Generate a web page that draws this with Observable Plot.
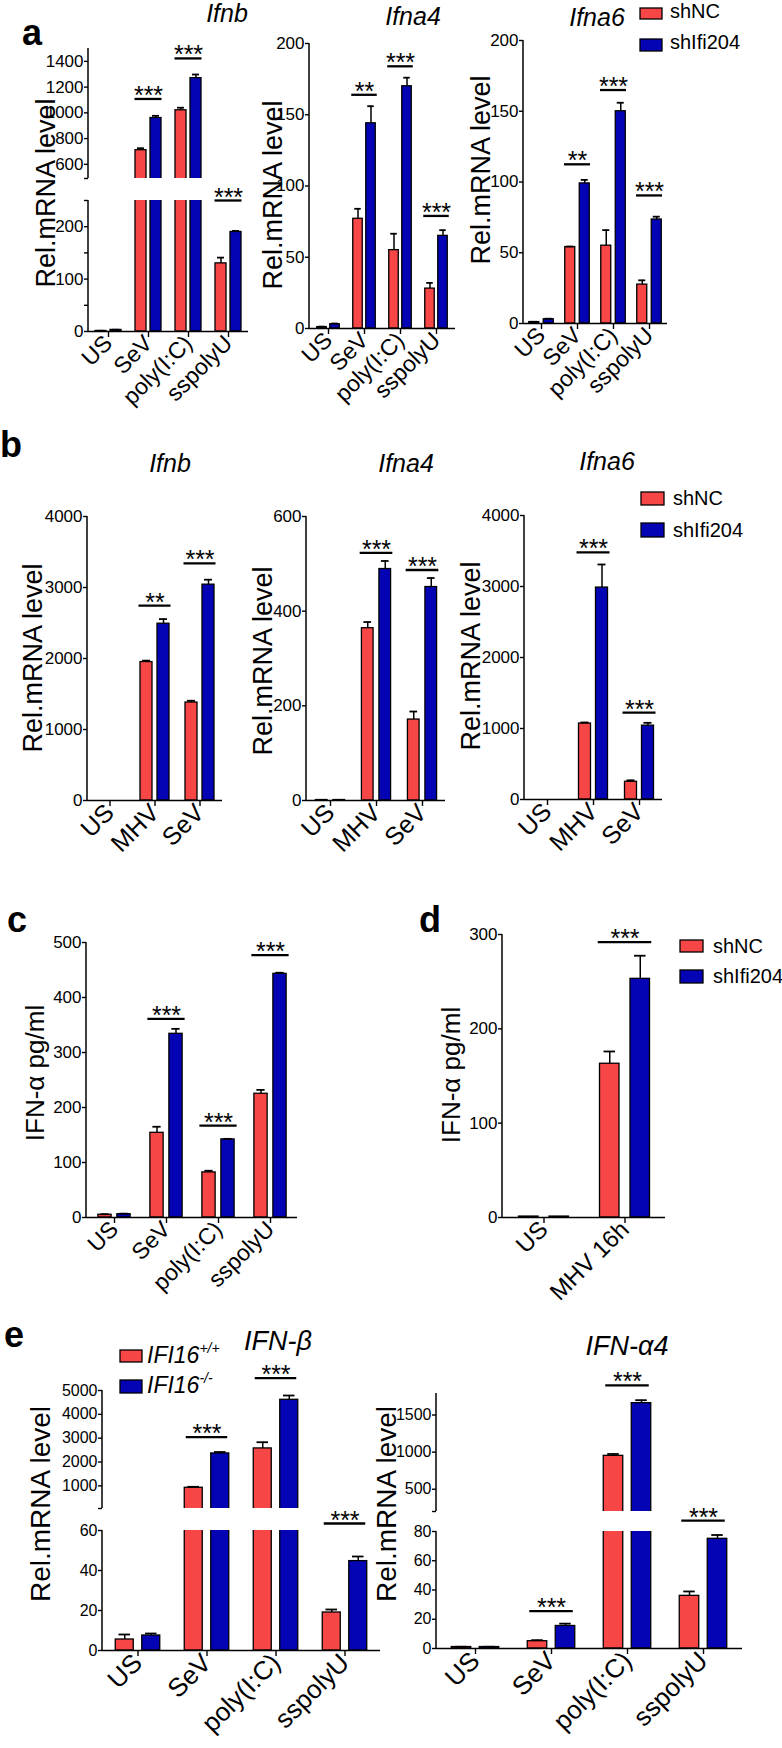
<!DOCTYPE html>
<html><head><meta charset="utf-8">
<script src="https://cdn.jsdelivr.net/npm/d3@7"></script>
<script src="https://cdn.jsdelivr.net/npm/@observablehq/plot@0.6"></script>
<style>
body{margin:0;background:#fff;}
#fig{position:relative;width:782px;height:1748px;overflow:hidden;font-family:"Liberation Sans",Arial,Helvetica,sans-serif;color:#000;background:#fff;}
</style></head><body><div id="fig"></div>
<script>
const RED = "#f64646", BLUE = "#0404b4";
const FONT = '"Liberation Sans", Arial, Helvetica, sans-serif';

// ---------- DATA ----------
const catsA = ["US", "SeV", "poly(I:C)", "sspolyU"];
const catsB = ["US", "MHV", "SeV"];
const catsD = ["US", "MHV 16h"];

// panel a
const aIfnbNC = [1, 710, 1020, 130],   aIfnbNCsem = [0.4, 15, 20, 11];
const aIfnbSh = [3, 960, 1270, 190],   aIfnbShsem = [0.4, 17, 28, 2];
const aIfnbSig = ["", "***", "***", "***"], aIfnbSigAt = [null, 1108, 1423, 250], aIfnbSigSeg = ["", "u", "u", "l"];

const aIfna4NC = [1, 77, 55, 28],     aIfna4NCsem = [0.3, 7, 11.5, 4];
const aIfna4Sh = [3, 144, 170, 65],   aIfna4Shsem = [0.5, 12, 6, 4];
const aIfna4Sig = ["", "**", "***", "***"], aIfna4SigAt = [null, 164, 184, 79];

const aIfna6NC = [1, 54, 55, 27.5],   aIfna6NCsem = [0.2, 0.4, 11, 3];
const aIfna6Sh = [3, 99, 150, 73.5],  aIfna6Shsem = [0.4, 2.5, 6, 2];
const aIfna6Sig = ["", "**", "***", "***"], aIfna6SigAt = [null, 112.5, 165, 90.5];

// panel b
const bIfnbNC = [0, 1950, 1380],  bIfnbNCsem = [0, 20, 25];
const bIfnbSh = [0, 2490, 3040],  bIfnbShsem = [0, 65, 70];
const bIfnbSig = ["", "**", "***"], bIfnbSigAt = [null, 2746, 3340];

const bIfna4NC = [1, 364, 171],   bIfna4NCsem = [0, 13, 17];
const bIfna4Sh = [1, 489, 451],   bIfna4Shsem = [0, 17, 19];
const bIfna4Sig = ["", "***", "***"], bIfna4SigAt = [null, 523, 487];

const bIfna6NC = [0, 1070, 250],  bIfna6NCsem = [0, 15, 20];
const bIfna6Sh = [0, 2985, 1040], bIfna6Shsem = [0, 325, 40];
const bIfna6Sig = ["", "***", "***"], bIfna6SigAt = [null, 3480, 1225];

// panel c
const cNC = [5, 154, 82, 225],  cNCsem = [1, 11, 3, 7];
const cSh = [6, 334, 142, 443], cShsem = [1, 9, 1, 2];
const cSig = ["", "***", "***", "***"], cSigAt = [null, 361, 167, 477];

// panel d
const dNC = [1, 163], dNCsem = [0, 13];
const dSh = [1, 253], dShsem = [0, 24.5];
const dSig = ["", "***"], dSigAt = [null, 292];

// panel e
const eBWt = [5.5, 920, 2570, 19],   eBWtsem = [2.5, 40, 260, 1.5];
const eBKo = [7.5, 2360, 4610, 44.7], eBKosem = [1, 60, 180, 2.3];
const eBSig = ["", "***", "***", "***"], eBSigAt = [null, 3040, 5515, 63.5], eBSigSeg = ["", "u", "u", "l"];

const eAWt = [1, 5, 950, 36],     eAWtsem = [0.2, 0.7, 25, 3];
const eAKo = [1, 15.4, 1660, 75], eAKosem = [0.2, 1.6, 40, 2.6];
const eASig = ["", "***", "***", "***"], eASigAt = [null, 25.5, 1900, 87.5], eASigSeg = ["", "l", "u", "l"];

// tick values
const t0_200 = [0, 50, 100, 150, 200];
const t0_4000 = [0, 1000, 2000, 3000, 4000];
const t0_600 = [0, 200, 400, 600];
const t0_500 = [0, 100, 200, 300, 400, 500];
const t0_300 = [0, 100, 200, 300];

// ---------- DRAWING ----------
const svgNS = "http://www.w3.org/2000/svg";
const fig = document.getElementById("fig");

function yLine(index, scales, values, dims) {
  const l = document.createElementNS(svgNS, "line");
  l.setAttribute("x1", dims.marginLeft); l.setAttribute("x2", dims.marginLeft);
  l.setAttribute("y1", dims.marginTop); l.setAttribute("y2", dims.height - dims.marginBottom);
  l.setAttribute("stroke", "black"); l.setAttribute("stroke-width", "1.5");
  return l;
}

function drawSeg(p, seg, bottom) {
  const ML = 70, MR = 24, MT = 44, MB = 140;
  const n = p.cats.length, step = p.w / n;
  const bi = (step - p.bw) / 2, ci = (step - p.capW) / 2, si = (step - p.sigLen) / 2;
  const clip = p.segs.length > 1;
  const lo = seg.domain[0], span = seg.domain[1] - seg.domain[0];
  const rows = [[], []];
  p.cats.forEach((c, i) => {
    rows[0].push({cat: c, v: p.s1[i], e: p.e1[i]});
    rows[1].push({cat: c, v: p.s2[i], e: p.e2[i]});
  });
  const sig = p.cats.map((c, i) => ({cat: c, y: p.sigAt[i], t: p.sig[i], seg: p.sigSeg ? p.sigSeg[i] : seg.name}))
    .filter(d => d.t && d.seg === seg.name);
  const marks = [];
  rows.forEach((all, g) => {
    const data = bottom ? all : all.filter(d => d.v > lo + span * 0.02);
    const dx = g ? p.off : -p.off;
    marks.push(Plot.barY(data, {x: "cat", y1: 0, y2: "v", dx, insetLeft: bi, insetRight: bi,
      fill: g ? BLUE : RED, stroke: "black", strokeWidth: 1.3, clip}));
    const eb = data.filter(d => d.e > 0);
    marks.push(Plot.ruleX(eb, {x: "cat", y1: "v", y2: d => d.v + d.e, dx, stroke: "black", strokeWidth: 1.5, clip}));
    marks.push(Plot.tickY(eb, {x: "cat", y: d => d.v + d.e, dx, insetLeft: ci, insetRight: ci, stroke: "black", strokeWidth: 1.8, clip}));
  });
  marks.push(yLine);
  marks.push(Plot.axisY({ticks: seg.ticks, tickFormat: d => (seg.labels || seg.ticks).includes(d) ? String(d) : "",
    tickSize: 4, tickPadding: 1, fontSize: p.yFont, strokeWidth: 1.4, label: null}));
  if (bottom) {
    marks.push(Plot.ruleY([seg.domain[0]], {stroke: "black", strokeWidth: 1.5}));
    marks.push(Plot.axisX({tickSize: 6, tickRotate: -45, tickPadding: 2, fontSize: p.xFont, strokeWidth: 1.4, label: null}));
  }
  marks.push(Plot.tickY(sig, {x: "cat", y: "y", insetLeft: si, insetRight: si, stroke: "black", strokeWidth: 2.3}));
  marks.push(Plot.text(sig, {x: "cat", y: "y", text: "t", dy: 5, lineAnchor: "bottom", fontSize: 25}));
  const xOpt = {type: "band", domain: p.cats, padding: 0};
  if (!bottom) xOpt.axis = null;
  const svg = Plot.plot({
    width: ML + p.w + MR, height: MT + seg.h + MB,
    marginLeft: ML, marginRight: MR, marginTop: MT, marginBottom: MB,
    x: xOpt, y: {domain: seg.domain},
    style: {background: "transparent", overflow: "visible", fontFamily: FONT, color: "black"},
    marks
  });
  svg.style.position = "absolute";
  svg.style.left = (p.left - ML) + "px";
  svg.style.top = (seg.top - MT) + "px";
  svg.style.maxWidth = "none";
  fig.appendChild(svg);
}

function panel(p) {
  p.segs.forEach((s, i) => drawSeg(p, s, i === p.segs.length - 1));
}

// panel a
panel({cats: catsA, s1: aIfnbNC, e1: aIfnbNCsem, s2: aIfnbSh, e2: aIfnbShsem,
  sig: aIfnbSig, sigAt: aIfnbSigAt, sigSeg: aIfnbSigSeg,
  left: 88, w: 160, bw: 11, off: 7.5, capW: 7, sigLen: 27, xFont: 23, yFont: 17,
  segs: [
    {name: "u", domain: [490, 1500], top: 48, h: 130, ticks: [490, 600, 800, 1000, 1200, 1400], labels: [600, 800, 1000, 1200, 1400]},
    {name: "l", domain: [0, 250], top: 200, h: 131, ticks: [0, 50, 100, 150, 200, 250], labels: [0, 100, 200]}
  ]});
panel({cats: catsA, s1: aIfna4NC, e1: aIfna4NCsem, s2: aIfna4Sh, e2: aIfna4Shsem,
  sig: aIfna4Sig, sigAt: aIfna4SigAt,
  left: 309, w: 146, bw: 10, off: 6.5, capW: 7, sigLen: 26, xFont: 23, yFont: 17,
  segs: [{name: "m", domain: [0, 200], top: 43, h: 285, ticks: t0_200}]});
panel({cats: catsA, s1: aIfna6NC, e1: aIfna6NCsem, s2: aIfna6Sh, e2: aIfna6Shsem,
  sig: aIfna6Sig, sigAt: aIfna6SigAt,
  left: 523, w: 144, bw: 10, off: 7.25, capW: 7, sigLen: 26, xFont: 23, yFont: 17,
  segs: [{name: "m", domain: [0, 200], top: 40, h: 283, ticks: t0_200}]});

// panel b
panel({cats: catsB, s1: bIfnbNC, e1: bIfnbNCsem, s2: bIfnbSh, e2: bIfnbShsem,
  sig: bIfnbSig, sigAt: bIfnbSigAt,
  left: 87, w: 135, bw: 12, off: 8.5, capW: 8, sigLen: 32, xFont: 25, yFont: 17,
  segs: [{name: "m", domain: [0, 4000], top: 516, h: 284, ticks: t0_4000}]});
panel({cats: catsB, s1: bIfna4NC, e1: bIfna4NCsem, s2: bIfna4Sh, e2: bIfna4Shsem,
  sig: bIfna4Sig, sigAt: bIfna4SigAt,
  left: 306, w: 139, bw: 12, off: 8.75, capW: 8, sigLen: 33, xFont: 25, yFont: 17,
  segs: [{name: "m", domain: [0, 600], top: 516, h: 284, ticks: t0_600}]});
panel({cats: catsB, s1: bIfna6NC, e1: bIfna6NCsem, s2: bIfna6Sh, e2: bIfna6Shsem,
  sig: bIfna6Sig, sigAt: bIfna6SigAt,
  left: 524, w: 138, bw: 12, off: 8.5, capW: 8, sigLen: 33, xFont: 25, yFont: 17,
  segs: [{name: "m", domain: [0, 4000], top: 515, h: 284, ticks: t0_4000}]});

// panel c
panel({cats: catsA, s1: cNC, e1: cNCsem, s2: cSh, e2: cShsem, sig: cSig, sigAt: cSigAt,
  left: 86, w: 211, bw: 14, off: 9.5, capW: 9, sigLen: 38, xFont: 23, yFont: 17,
  segs: [{name: "m", domain: [0, 500], top: 942, h: 275, ticks: t0_500}]});

// panel d
panel({cats: catsD, s1: dNC, e1: dNCsem, s2: dSh, e2: dShsem, sig: dSig, sigAt: dSigAt,
  left: 502, w: 163, bw: 20, off: 15.25, capW: 12, sigLen: 54, xFont: 24, yFont: 17,
  segs: [{name: "m", domain: [0, 300], top: 934, h: 283, ticks: t0_300}]});

// panel e
panel({cats: catsA, s1: eBWt, e1: eBWtsem, s2: eBKo, e2: eBKosem,
  sig: eBSig, sigAt: eBSigAt, sigSeg: eBSigSeg,
  left: 102, w: 278, bw: 18.5, off: 13.25, capW: 12, sigLen: 42, xFont: 26, yFont: 16,
  segs: [
    {name: "u", domain: [50, 5000], top: 1390, h: 118, ticks: [50, 1000, 2000, 3000, 4000, 5000], labels: [1000, 2000, 3000, 4000, 5000]},
    {name: "l", domain: [0, 60], top: 1530, h: 120, ticks: [0, 20, 40, 60]}
  ]});
panel({cats: catsA, s1: eAWt, e1: eAWtsem, s2: eAKo, e2: eAKosem,
  sig: eASig, sigAt: eASigAt, sigSeg: eASigSeg,
  left: 436, w: 306, bw: 20, off: 14, capW: 12, sigLen: 44, xFont: 26, yFont: 16,
  segs: [
    {name: "u", domain: [200, 1790], top: 1393, h: 118, ticks: [200, 500, 1000, 1500], labels: [500, 1000, 1500]},
    {name: "l", domain: [0, 80], top: 1531, h: 117, ticks: [0, 20, 40, 60, 80]}
  ]});

// ---------- ANNOTATIONS ----------
const T = (x, y, txt, o = {}) => `<text x="${x}" y="${y}" font-size="${o.s || 20}" text-anchor="${o.a || "start"}"${o.i ? ' font-style="italic"' : ""}${o.b ? ' font-weight="bold"' : ""}>${txt}</text>`;
const R = (x, y, txt, s) => `<text transform="translate(${x},${y}) rotate(-90)" font-size="${s}" text-anchor="middle">${txt}</text>`;
const B = (x, y, w, h, c) => `<rect x="${x}" y="${y}" width="${w}" height="${h}" fill="${c}" stroke="black" stroke-width="1.3"/>`;
const yLab = "Rel.mRNA level", yLabC = "IFN-α pg/ml";
let s = "";
// panel letters
s += T(22, 45, "a", {s: 36, b: 1}) + T(0, 457, "b", {s: 36, b: 1}) + T(7, 932, "c", {s: 36, b: 1}) + T(419, 932, "d", {s: 36, b: 1}) + T(4, 1347, "e", {s: 36, b: 1});
// titles
s += T(227, 22, "Ifnb", {s: 25, i: 1, a: "middle"}) + T(413, 25, "Ifna4", {s: 25, i: 1, a: "middle"}) + T(597, 26, "Ifna6", {s: 25, i: 1, a: "middle"});
s += T(170, 472, "Ifnb", {s: 25, i: 1, a: "middle"}) + T(406, 472, "Ifna4", {s: 25, i: 1, a: "middle"}) + T(607, 470, "Ifna6", {s: 25, i: 1, a: "middle"});
s += T(278, 1350, "IFN-β", {s: 27, i: 1, a: "middle"}) + T(627, 1355, "IFN-α4", {s: 27, i: 1, a: "middle"});
// y labels
s += R(55, 193, yLab, 27) + R(282, 195, yLab, 27) + R(490, 170, yLab, 27);
s += R(42, 658, yLab, 27) + R(272, 661, yLab, 27) + R(480, 656, yLab, 27);
s += R(44, 1073, yLabC, 26) + R(460, 1075, yLabC, 26);
s += R(50, 1504, yLab, 28) + R(396, 1504, yLab, 28);
// legends
s += B(640, 8, 22, 11, RED) + T(670, 18, "shNC") + B(640, 39, 22, 12, BLUE) + T(670, 49, "shIfi204");
s += B(641, 492, 23, 13, RED) + T(673, 505, "shNC") + B(641, 523, 23, 14, BLUE) + T(673, 537, "shIfi204");
s += B(680, 940, 23, 12, RED) + T(713, 953, "shNC") + B(680, 970, 23, 13, BLUE) + T(713, 983, "shIfi204");
s += B(120, 1350, 22, 12, RED) + `<text x="147" y="1363" font-size="23" font-style="italic">IFI16<tspan font-size="14" dy="-10">+/+</tspan></text>`;
s += B(120, 1380, 22, 13, BLUE) + `<text x="147" y="1393" font-size="23" font-style="italic">IFI16<tspan font-size="14" dy="-10">-/-</tspan></text>`;

const ov = document.createElementNS(svgNS, "svg");
ov.setAttribute("width", 782); ov.setAttribute("height", 1748);
ov.setAttribute("style", `position:absolute;left:0;top:0;font-family:${FONT};fill:black;`);
ov.innerHTML = s;
fig.appendChild(ov);
</script>
</body></html>
